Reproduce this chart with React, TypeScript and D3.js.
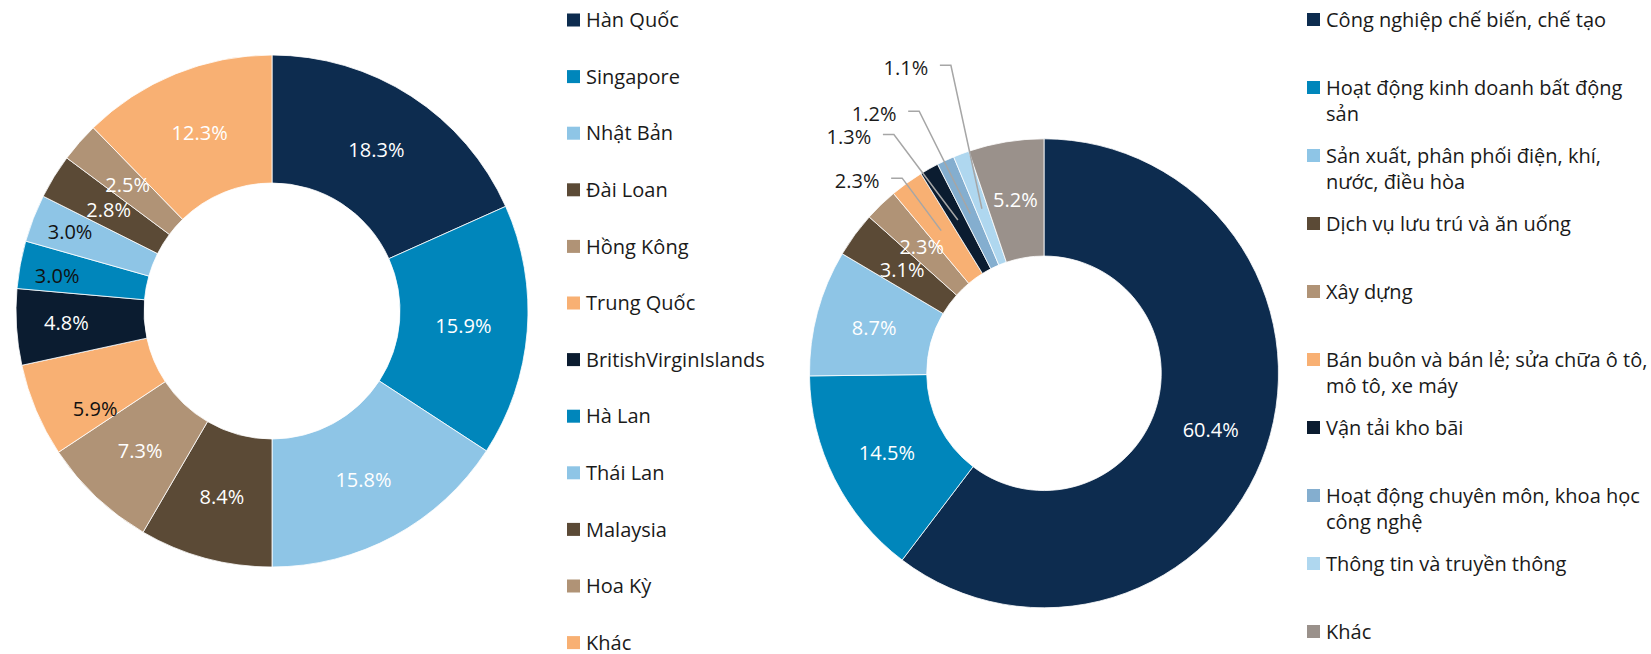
import React from "react";
import * as d3 from "d3";

// ---------- Data ----------
const countryNames = [
  "Hàn Quốc",
  "Singapore",
  "Nhật Bản",
  "Đài Loan",
  "Hồng Kông",
  "Trung Quốc",
  "BritishVirginIslands",
  "Hà Lan",
  "Thái Lan",
  "Malaysia",
  "Hoa Kỳ",
  "Khác",
];
const countryShares = [18.3, 15.9, 15.8, 8.4, 7.3, 5.9, 4.8, 3.0, 3.0, 2.8, 2.5, 12.3];

const sectorNames = [
  "Công nghiệp chế biến, chế tạo",
  "Hoạt động kinh doanh bất động\nsản",
  "Sản xuất, phân phối điện, khí,\nnước, điều hòa",
  "Dịch vụ lưu trú và ăn uống",
  "Xây dựng",
  "Bán buôn và bán lẻ; sửa chữa ô tô,\nmô tô, xe máy",
  "Vận tải kho bãi",
  "Hoạt động chuyên môn, khoa học\ncông nghệ",
  "Thông tin và truyền thông",
  "Khác",
];
const sectorShares = [60.4, 14.5, 8.7, 3.1, 2.3, 2.3, 1.3, 1.2, 1.1, 5.2];

// ---------- Styles ----------
const NAVY = "#0D2C4F";
const BLUE = "#0086BB";
const LIGHT = "#8EC5E6";
const BROWN = "#5B4A36";
const TAN = "#B09376";
const ORANGE = "#F8B073";
const DARK = "#0B1C30";
const STEEL = "#84AECF";
const PALE = "#AFD7EF";
const GREY = "#9A918B";

const countryColors = [NAVY, BLUE, LIGHT, BROWN, TAN, ORANGE, DARK, BLUE, LIGHT, BROWN, TAN, ORANGE];
const countryInk = ["#fff", "#fff", "#fff", "#fff", "#fff", "#111", "#fff", "#111", "#111", "#fff", "#fff", "#fff"];
const sectorColors = [NAVY, BLUE, LIGHT, BROWN, TAN, ORANGE, DARK, STEEL, PALE, GREY];
const sectorInk = ["#fff", "#fff", "#fff", "#fff", "#fff", null, null, null, null, "#fff"];

// label nudges (px) for hand-moved labels on the left donut
const countryNudge: Record<number, [number, number]> = {
  5: [0, 23],
  6: [-14, 0],
  7: [-26, 0],
  8: [-23, -10],
};
// callout label offsets (px) from slice anchor, right donut
const sectorCallout: Record<number, [number, number]> = {
  5: [-84, -50],
  6: [-109, -83],
  7: [-96, -100],
  8: [-76, -141],
};

const FONT = "'Open Sans', 'Noto Sans', sans-serif";
const FS = 20;
const BASE = 7.2;
const TEXT = "#1a1a1a";

const LEFT = { cx: 272, cy: 311, R: 256 };
const RIGHT = { cx: 1044, cy: 373.3, R: 234.5 };

function fmt(v: number) {
  return v.toFixed(1) + "%";
}

function Donut({
  values,
  colors,
  ink,
  geo,
  nudge,
  callout,
}: {
  values: number[];
  colors: string[];
  ink: (string | null)[];
  geo: { cx: number; cy: number; R: number };
  nudge: Record<number, [number, number]>;
  callout: Record<number, [number, number]>;
}) {
  const pie = d3
    .pie<number>()
    .sort(null)
    .value((d) => d)
    .startAngle(0)
    .endAngle(Math.PI * 2);
  const arcs = pie(values);
  const arc = d3
    .arc<d3.PieArcDatum<number>>()
    .innerRadius(geo.R * 0.5)
    .outerRadius(geo.R);
  const labelArc = d3
    .arc<d3.PieArcDatum<number>>()
    .innerRadius(geo.R * 0.75)
    .outerRadius(geo.R * 0.75);
  const line = d3.line();
  return (
    <g transform={`translate(${geo.cx},${geo.cy})`}>
      {arcs.map((a, i) => (
        <path key={"s" + i} d={arc(a) || ""} fill={colors[i]} stroke="#fff" strokeWidth={0.8} />
      ))}
      {arcs.map((a, i) => {
        const [x, y] = labelArc.centroid(a);
        if (callout[i]) {
          const [ox, oy] = callout[i];
          const lx = x + ox;
          const ly = y + oy;
          const pts: [number, number][] = [
            [lx + 34, ly - 2.5],
            [lx + 45, ly - 2.5],
            [x, y],
          ];
          return (
            <g key={"c" + i}>
              <path d={line(pts) || ""} fill="none" stroke="#A6A6A6" strokeWidth={1.5} />
              <text x={lx} y={ly + BASE} textAnchor="middle" fontFamily={FONT} fontSize={FS} fill={TEXT}>
                {fmt(values[i])}
              </text>
            </g>
          );
        }
        const [nx, ny] = nudge[i] || [0, 0];
        return (
          <text
            key={"l" + i}
            x={x + nx}
            y={y + ny + BASE}
            textAnchor="middle"
            fontFamily={FONT}
            fontSize={FS}
            fill={ink[i] || TEXT}
          >
            {fmt(values[i])}
          </text>
        );
      })}
    </g>
  );
}

function Legend({
  names,
  colors,
  x,
  y0,
  step,
  lineH,
}: {
  names: string[];
  colors: string[];
  x: number;
  y0: number;
  step: number;
  lineH: number;
}) {
  return (
    <g>
      {names.map((n, i) => {
        const cy = y0 + i * step;
        const lines = n.split("\n");
        return (
          <g key={i}>
            <rect x={x} y={cy - 6.5} width={13} height={13} fill={colors[i]} />
            <text x={x + 19} y={cy + BASE} fontFamily={FONT} fontSize={FS} fill={TEXT}>
              {lines.map((ln, j) => (
                <tspan key={j} x={x + 19} y={cy + BASE + j * lineH}>
                  {ln}
                </tspan>
              ))}
            </text>
          </g>
        );
      })}
    </g>
  );
}

export default function App() {
  return (
    <svg
      width={1651}
      height={654}
      viewBox="0 0 1651 654"
      style={{ position: "absolute", left: 0, top: 0, background: "#fff" }}
    >
      <Donut
        values={countryShares}
        colors={countryColors}
        ink={countryInk}
        geo={LEFT}
        nudge={countryNudge}
        callout={{}}
      />
      <Legend names={countryNames} colors={countryColors} x={567} y0={20} step={56.6} lineH={26} />
      <Donut
        values={sectorShares}
        colors={sectorColors}
        ink={sectorInk}
        geo={RIGHT}
        nudge={{}}
        callout={sectorCallout}
      />
      <Legend names={sectorNames} colors={sectorColors} x={1307} y0={19.5} step={68} lineH={26} />
    </svg>
  );
}
